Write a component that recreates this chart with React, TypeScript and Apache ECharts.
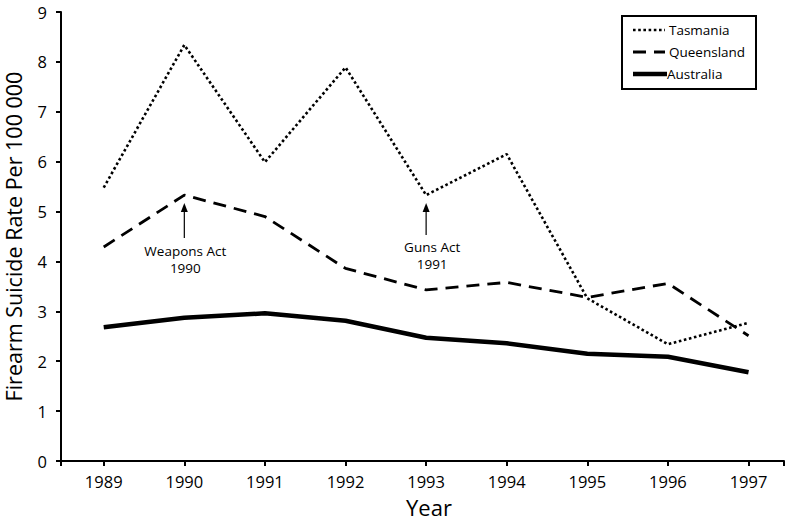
import React, { useEffect, useRef } from "react";
import * as echarts from "echarts";

const years = [1989, 1990, 1991, 1992, 1993, 1994, 1995, 1996, 1997];
const tasmania = [5.48, 8.34, 5.99, 7.89, 5.33, 6.15, 3.26, 2.34, 2.77];
const queensland = [4.29, 5.33, 4.9, 3.86, 3.43, 3.58, 3.28, 3.56, 2.51];
const australia = [2.68, 2.87, 2.96, 2.81, 2.47, 2.36, 2.15, 2.09, 1.78];
const seriesNames = ["Tasmania", "Queensland", "Australia"];
const annotations = [
  { lines: ["Weapons Act", "1990"], year: 1990, tip: 5.17, base: 4.47, textY: 4.03, textDx: 1 },
  { lines: ["Guns Act", "1991"], year: 1993, tip: 5.17, base: 4.53, textY: 4.11, textDx: 6 },
];

const FONT = "'Open Sans', 'Noto Sans', sans-serif";

const styles = {
  Tasmania: { width: 2.6, dash: [2.6, 2.6] as number[] | null },
  Queensland: { width: 2.8, dash: [13, 8] as number[] | null },
  Australia: { width: 4.5, dash: null as number[] | null },
} as Record<string, { width: number; dash: number[] | null }>;

export default function App() {
  const ref = useRef<HTMLDivElement>(null);
  useEffect(() => {
    const chart = echarts.init(ref.current!, null, { renderer: "svg" });
    const toPairs = (vals: number[]) => years.map((y, i) => [y, vals[i]]);
    const mk = (name: string, vals: number[], z: number) => ({
      name,
      type: "line",
      data: toPairs(vals),
      symbol: "none",
      lineStyle: { color: "#000", width: styles[name].width, type: styles[name].dash ?? "solid" },
      itemStyle: { color: "#000" },
      z,
    });
    chart.setOption({
      animation: false,
      backgroundColor: "#fff",
      textStyle: { fontFamily: FONT, color: "#000" },
      grid: { left: 61, right: 1, top: 12, bottom: 62, containLabel: false, outerBoundsMode: "none" },
      xAxis: {
        type: "value",
        min: 1988.47,
        max: 1997.44,
        minInterval: 1,
        maxInterval: 1,
        name: "Year",
        nameLocation: "middle",
        nameGap: 35,
        nameTextStyle: { fontFamily: FONT, fontSize: 22, color: "#000", padding: [0, 0, 0, 13] },
        axisLine: { lineStyle: { color: "#000", width: 2 } },
        axisTick: { show: true, length: 5, lineStyle: { color: "#000", width: 2 } },
        axisLabel: {
          fontFamily: FONT,
          fontSize: 16.5,
          color: "#000",
          margin: 12,
          formatter: (v: number) => (Math.abs(v - Math.round(v)) < 1e-6 ? String(Math.round(v)) : ""),
        },
        splitLine: { show: false },
      },
      yAxis: {
        type: "value",
        min: 0,
        max: 9,
        interval: 1,
        name: "Firearm Suicide Rate Per 100 000",
        nameLocation: "middle",
        nameGap: 37,
        nameTextStyle: { fontFamily: FONT, fontSize: 21.5, color: "#000" },
        axisLine: { show: true, lineStyle: { color: "#000", width: 2 } },
        axisTick: { show: true, length: 5, lineStyle: { color: "#000", width: 2 } },
        axisLabel: { fontFamily: FONT, fontSize: 16.5, color: "#000", margin: 14 },
        splitLine: { show: false },
      },
      series: [mk("Tasmania", tasmania, 3), mk("Queensland", queensland, 2), mk("Australia", australia, 1)],
    });

    const graphics: any[] = [];
    annotations.forEach((a) => {
      const tip = chart.convertToPixel({ gridIndex: 0 }, [a.year, a.tip]) as number[];
      const base = chart.convertToPixel({ gridIndex: 0 }, [a.year, a.base]) as number[];
      const txt = chart.convertToPixel({ gridIndex: 0 }, [a.year, a.textY]) as number[];
      graphics.push({
        type: "line",
        shape: { x1: base[0], y1: base[1], x2: tip[0], y2: tip[1] + 6 },
        style: { stroke: "#000", lineWidth: 1.2 },
        silent: true,
      });
      graphics.push({
        type: "polygon",
        shape: { points: [[tip[0], tip[1]], [tip[0] - 3.5, tip[1] + 9], [tip[0] + 3.5, tip[1] + 9]] },
        style: { fill: "#000" },
        silent: true,
      });
      graphics.push({
        type: "text",
        x: txt[0] + a.textDx,
        y: txt[1],
        style: {
          text: a.lines.join("\n"),
          fontFamily: FONT,
          fontSize: 13.5,
          lineHeight: 17,
          fill: "#000",
          align: "center",
          verticalAlign: "middle",
        },
        silent: true,
      });
    });

    // legend box
    const lx = 622, ly = 16, lw = 134, lh = 73;
    graphics.push({
      type: "rect",
      shape: { x: lx, y: ly, width: lw, height: lh },
      style: { fill: "#fff", stroke: "#000", lineWidth: 2 },
      z: 10,
    });
    seriesNames.forEach((n, i) => {
      const cy = ly + 14 + i * 22;
      const s = styles[n];
      graphics.push({
        type: "line",
        shape: { x1: lx + 11, y1: cy, x2: lx + (n === "Australia" ? 45 : 43), y2: cy },
        style: { stroke: "#000", lineWidth: s.width, lineDash: s.dash ?? undefined },
        z: 11,
      });
      graphics.push({
        type: "text",
        x: lx + (n === "Australia" ? 45 : 47),
        y: cy,
        style: { text: n, fontFamily: FONT, fontSize: 13.5, fill: "#000", align: "left", verticalAlign: "middle" },
        z: 11,
      });
    });
    chart.setOption({ graphic: graphics });

    return () => chart.dispose();
  }, []);
  return <div ref={ref} style={{ position: "fixed", left: 0, top: 0, width: 785, height: 523 }} />;
}
